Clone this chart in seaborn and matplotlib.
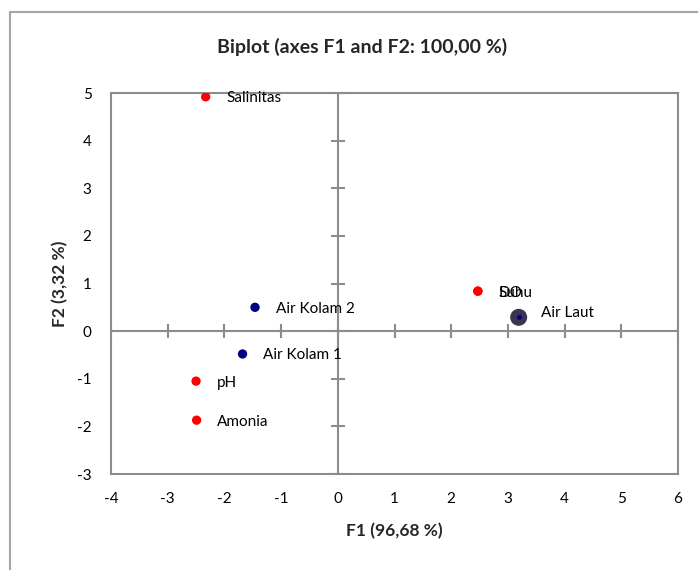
import matplotlib
matplotlib.use("Agg")
import matplotlib.pyplot as plt
import seaborn as sns
import pandas as pd
from matplotlib.patches import Rectangle

# ---- data ----
var_names = ["Salinitas", "Suhu", "DO", "pH", "Amonia"]
var_f1 = [-2.33, 2.47, 2.47, -2.50, -2.49]
var_f2 = [4.92, 0.84, 0.84, -1.05, -1.87]

obs_names = ["Air Kolam 2", "Air Kolam 1", "Air Laut"]
obs_f1 = [-1.46, -1.68, 3.19]
obs_f2 = [0.50, -0.48, 0.29]

x_ticks = [-4, -3, -2, -1, 0, 1, 2, 3, 4, 5, 6]
y_ticks = [-3, -2, -1, 0, 1, 2, 3, 4, 5]

title = "Biplot (axes F1 and F2: 100,00 %)"
x_label = "F1 (96,68 %)"
y_label = "F2 (3,32 %)"

sns.set_style("white")
plt.rcParams["font.family"] = ["Lato", "DejaVu Sans"]
plt.rcParams["axes.unicode_minus"] = False

df_var = pd.DataFrame({"F1": var_f1, "F2": var_f2, "name": var_names})
df_obs = pd.DataFrame({"F1": obs_f1, "F2": obs_f2, "name": obs_names})

fig = plt.figure(figsize=(6.98, 5.70), dpi=100)
ax = fig.add_axes([111/698, 1-474/570, (678-111)/698, (474-93)/570])

grey = "#8c8c8c"

# figure frame
fig.patches.append(Rectangle((10/698, -0.1), 1.2, 1 - 12/570 + 0.1, transform=fig.transFigure,
                             fill=False, edgecolor="#a6a6a6", linewidth=1.5))

# axis lines through origin
ax.axhline(0, color=grey, lw=1.5, zorder=1)
ax.axvline(0, color=grey, lw=1.5, zorder=1)
ax.plot(x_ticks, [0]*len(x_ticks), ls="none", marker="|", ms=10, mew=1.5, color=grey, zorder=1)
ax.plot([0]*len(y_ticks), y_ticks, ls="none", marker="_", ms=10, mew=1.5, color=grey, zorder=1)

# points
sns.scatterplot(data=df_var, x="F1", y="F2", color="#ff0000", s=45, edgecolor="none", ax=ax, zorder=3)
obs_sizes = [45, 45, 150]
obs_colors = ["#000080", "#000080", "#3b3552"]
for i in range(len(obs_names)):
    ax.scatter(obs_f1[i], obs_f2[i], s=obs_sizes[i], color=obs_colors[i], edgecolor="none", zorder=3)
ax.scatter(obs_f1[2], obs_f2[2], s=6, color="#000080", zorder=4)

# labels
for n, x, y in zip(var_names, var_f1, var_f2):
    ax.annotate(n, (x, y), xytext=(15, -1), textcoords="offset points", fontsize=11,
                va="center", ha="left", color="black")
for n, x, y in zip(obs_names, obs_f1, obs_f2):
    dy = 3 if n == "Air Laut" else -1
    dx = 16 if n == "Air Laut" else 15
    ax.annotate(n, (x, y), xytext=(dx, dy), textcoords="offset points", fontsize=11,
                va="center", ha="left", color="black")

ax.set_xlim(-4, 6)
ax.set_ylim(-3, 5)
ax.set_xticks(x_ticks)
ax.set_yticks(y_ticks)
ax.tick_params(length=0, labelsize=11, pad=13, labelcolor="black")
ax.tick_params(axis="y", pad=14)
for s in ax.spines.values():
    s.set_color(grey)
    s.set_linewidth(1.5)

ax.set_xlabel(x_label, fontsize=12.5, fontweight="bold", labelpad=12)
ax.set_ylabel(y_label, fontsize=12.5, fontweight="bold", labelpad=6)
fig.text(362/698, 1-47/570, title, fontsize=14, fontweight="bold", ha="center", va="center")

fig.savefig("out.png", dpi=100, facecolor="white")
